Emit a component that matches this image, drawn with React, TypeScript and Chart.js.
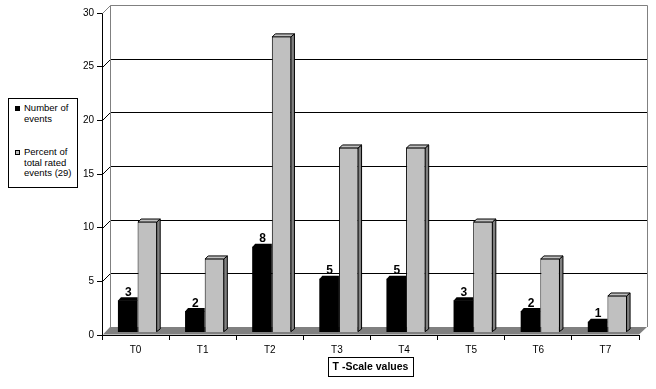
import React, { useEffect, useRef } from 'react';
import { Chart, registerables } from 'chart.js';

Chart.register(...registerables);

const categories = ['T0', 'T1', 'T2', 'T3', 'T4', 'T5', 'T6', 'T7'];
const numberOfEvents = [3, 2, 8, 5, 5, 3, 2, 1];
const percentOfEvents = [10.34, 6.9, 27.59, 17.24, 17.24, 10.34, 6.9, 3.45];
const yMin = 0;
const yMax = 30;
const yStep = 5;
const seriesLabels = ['Number of events', 'Percent of total rated events (29)'];
const axisTitle = 'T -Scale values';

const FONT = "'Liberation Sans', Arial, sans-serif";
const WALL_D = 8;
const BAR_D = 3;
const BAR_SHIFT_X = 2;
const BAR_SHIFT_Y = -2.5;

function poly(ctx: CanvasRenderingContext2D, pts: number[], fill: string, stroke?: string) {
  ctx.beginPath();
  ctx.moveTo(pts[0], pts[1]);
  for (let i = 2; i < pts.length; i += 2) ctx.lineTo(pts[i], pts[i + 1]);
  ctx.closePath();
  ctx.fillStyle = fill;
  ctx.fill();
  if (stroke) {
    ctx.strokeStyle = stroke;
    ctx.lineWidth = 1;
    ctx.stroke();
  }
}

const wallPlugin = {
  id: 'wall3d',
  beforeDatasetsDraw(chart: any) {
    const { ctx, chartArea: a, scales } = chart;
    const y = scales.y;
    const L = a.left;
    const R = a.right;
    const B = a.bottom;
    const D = WALL_D;
    ctx.save();
    poly(ctx, [L + 1, B - 0.5, L + D, B - D, R + D, B - D, R, B - 0.5], '#808080');
    ctx.lineWidth = 1;
    y.ticks.forEach((t: any) => {
      if (t.value === yMin) return;
      const py = Math.round(y.getPixelForValue(t.value)) + 0.5;
      ctx.strokeStyle = t.value === yMax ? '#808080' : '#000000';
      ctx.beginPath();
      ctx.moveTo(L + 0.5, py);
      ctx.lineTo(L + D + 0.5, py - D);
      ctx.lineTo(R + D + 0.5, py - D);
      ctx.stroke();
    });
    const topY = Math.round(y.getPixelForValue(yMax)) + 0.5 - D;
    ctx.strokeStyle = '#808080';
    ctx.beginPath();
    ctx.moveTo(L + D + 0.5, topY);
    ctx.lineTo(L + D + 0.5, B - D);
    ctx.moveTo(R + D + 0.5, topY);
    ctx.lineTo(R + D + 0.5, B - D);
    ctx.stroke();
    ctx.restore();
  },
  beforeDatasetDraw(chart: any) {
    chart.ctx.save();
    chart.ctx.translate(BAR_SHIFT_X, BAR_SHIFT_Y);
  },
  afterDatasetDraw(chart: any, args: any) {
    const { ctx } = chart;
    const d = BAR_D;
    args.meta.data.forEach((bar: any) => {
      const { x, y, base, width } = bar.getProps(['x', 'y', 'base', 'width'], true);
      const l = x - width / 2;
      const r = x + width / 2;
      if (args.index === 1) {
        poly(ctx, [r - 0.5, y + 0.5, r + d, y - d + 0.5, r + d, base - d, r - 0.5, base - 0.5], '#808080', '#000000');
        poly(ctx, [l + 0.5, y + 0.5, l + d + 0.5, y - d + 0.5, r + d, y - d + 0.5, r - 0.5, y + 0.5], '#c0c0c0', '#000000');
      } else {
        poly(ctx, [l, y + 0.5, l + d, y - d, r, y - d, r, y + 0.5], '#000000');
      }
    });
    ctx.restore();
  },
  afterDatasetsDraw(chart: any) {
    const { ctx } = chart;
    const meta = chart.getDatasetMeta(0);
    ctx.save();
    ctx.translate(BAR_SHIFT_X, BAR_SHIFT_Y);
    ctx.fillStyle = '#000000';
    ctx.font = `bold 12px ${FONT}`;
    ctx.textAlign = 'center';
    ctx.textBaseline = 'alphabetic';
    meta.data.forEach((bar: any, i: number) => {
      const { x, y } = bar.getProps(['x', 'y'], true);
      ctx.fillText(String(numberOfEvents[i]), x + 0.5, y - 4.5);
    });
    ctx.restore();
  },
  afterDraw(chart: any) {
    const { ctx, scales } = chart;
    const xs = scales.x;
    ctx.save();
    ctx.font = `bold 10.5px ${FONT}`;
    const w = Math.round(ctx.measureText(axisTitle).width + 9);
    const cx = (xs.left + xs.right) / 2;
    ctx.strokeStyle = '#000000';
    ctx.lineWidth = 1;
    ctx.strokeRect(Math.round(cx - w / 2) + 0.5, 357.5, w, 19);
    ctx.restore();
  },
};

export default function App() {
  const ref = useRef<HTMLCanvasElement | null>(null);

  useEffect(() => {
    document.body.style.margin = '0';
    const canvas = ref.current;
    if (!canvas) return;
    const chart = new Chart(canvas, {
      type: 'bar',
      data: {
        labels: categories,
        datasets: [
          {
            label: seriesLabels[0],
            data: numberOfEvents,
            backgroundColor: '#000000',
            borderColor: '#000000',
            borderWidth: 0,
          },
          {
            label: seriesLabels[1],
            data: percentOfEvents,
            backgroundColor: '#c0c0c0',
            borderColor: '#000000',
            borderWidth: 1,
          },
        ],
      },
      options: {
        responsive: false,
        animation: false,
        devicePixelRatio: 1,
        layout: { padding: { left: 0, right: 17, top: 13, bottom: 0 } },
        datasets: { bar: { categoryPercentage: 0.585, barPercentage: 1 } },
        plugins: {
          legend: { display: false },
          tooltip: { enabled: false },
          title: { display: false },
        },
        scales: {
          x: {
            type: 'category',
            offset: true,
            grid: { offset: true, drawOnChartArea: false, drawTicks: true, tickLength: 5, color: '#000000' },
            border: { display: true, color: '#000000', width: 1 },
            ticks: { color: '#000000', font: { family: FONT, size: 10 }, padding: 4, maxRotation: 0 },
            title: {
              display: true,
              text: axisTitle,
              color: '#000000',
              font: { family: FONT, size: 10.5, weight: 'bold' },
              padding: { top: 0, bottom: 15.5 },
            },
            afterFit: (s: any) => {
              s.height = 54;
            },
          },
          y: {
            min: yMin,
            max: yMax,
            ticks: { stepSize: yStep, color: '#000000', font: { family: FONT, size: 10 }, padding: 3 },
            grid: { drawOnChartArea: false, drawTicks: true, tickLength: 5, color: '#000000' },
            border: { display: true, color: '#000000', width: 1 },
            afterFit: (s: any) => {
              s.width = 102;
            },
          },
        },
      },
      plugins: [wallPlugin],
    });
    return () => chart.destroy();
  }, []);

  const legendItem = (color: string, lines: string[], top: number) => (
    <div style={{ position: 'absolute', left: 6, top, display: 'flex', alignItems: 'flex-start' }}>
      <div
        style={{
          width: 5,
          height: 5,
          background: color,
          border: '1px solid #000',
          marginTop: 3,
          marginRight: 4,
          boxSizing: 'border-box',
        }}
      />
      <div>
        {lines.map((t, i) => (
          <div key={i} style={{ whiteSpace: 'nowrap' }}>
            {t}
          </div>
        ))}
      </div>
    </div>
  );

  return (
    <div style={{ position: 'relative', width: 656, height: 389, background: '#ffffff' }}>
      <canvas ref={ref} width={656} height={389} style={{ display: 'block', position: 'absolute', left: 0, top: 0 }} />
      <div
        style={{
          position: 'absolute',
          left: 8,
          top: 98,
          width: 70,
          height: 90,
          boxSizing: 'border-box',
          border: '1px solid #000',
          background: '#ffffff',
          fontFamily: FONT,
          fontSize: '9.5px',
          lineHeight: '10.5px',
          color: '#000',
        }}
      >
        {legendItem('#000000', ['Number of', 'events'], 4)}
        {legendItem('#c0c0c0', ['Percent of', 'total rated', 'events (29)'], 48)}
      </div>
    </div>
  );
}
